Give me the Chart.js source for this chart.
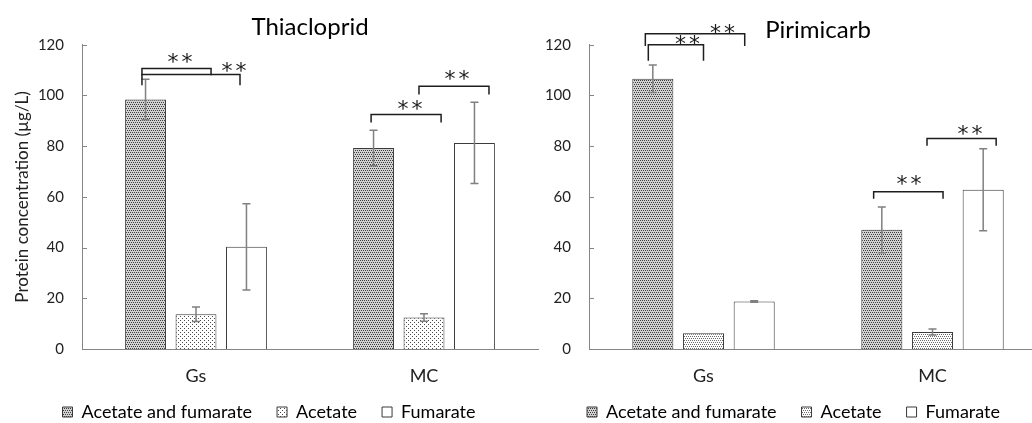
<!DOCTYPE html>
<html>
<head>
<meta charset="utf-8">
<script src="https://cdn.jsdelivr.net/npm/chart.js@4"></script>
<style>
  html, body { margin: 0; padding: 0; background: #fff; overflow: hidden; width: 1032px; height: 423px; }
  canvas { position: absolute; top: 0; }
  #thiacloprid { left: 0; }
  #pirimicarb { left: 540px; }
</style>
</head>
<body>
<canvas id="thiacloprid" width="540" height="423"></canvas>
<canvas id="pirimicarb" width="524" height="423"></canvas>
<script>
// ---- data (µg/L), order of each array: [Gs, MC] ----
const categories = ['Gs', 'MC'];
const seriesNames = ['Acetate and fumarate', 'Acetate', 'Fumarate'];
const yTicks = [0, 20, 40, 60, 80, 100, 120];

const thiaMixed = [98.4, 79.3];
const thiaAcetate = [13.7, 12.4];
const thiaFumarate = [40.3, 81.3];
const thiaMixedErr = [8, 7];
const thiaAcetateErr = [2.9, 1.5];
const thiaFumarateErr = [17, 16];

const piriMixed = [106.6, 47];
const piriAcetate = [6.2, 6.7];
const piriFumarate = [18.7, 62.8];
const piriMixedErr = [5.4, 9];
const piriAcetateErr = [0, 1.2];
const piriFumarateErr = [0.3, 16.2];

// significance brackets: [category, from, to, top, legEnd, starX, starY]
// from/to/starX are offsets from the category centre (in category units), top/legEnd/starY in µg/L
const thiaBrackets = [
  ['Gs', -0.237, 0.066, 110.7, 108, -0.07, 114.6],
  ['Gs', -0.237, 0.193, 108.3, 104, 0.167, 111.1],
  ['MC', -0.232, 0.075, 92.5, 89.3, -0.061, 96.4],
  ['MC', -0.022, 0.285, 103.6, 100.4, 0.145, 107.9]
];
const piriBrackets = [
  ['Gs', -0.254, 0.18, 124.4, 119.5, 0.083, 126.1],
  ['Gs', -0.241, 0, 120, 113.7, -0.07, 121.7],
  ['MC', -0.257, 0.046, 62, 59.3, -0.103, 66.8],
  ['MC', -0.024, 0.278, 83, 80.2, 0.164, 86.2]
];

Chart.defaults.font.family = 'Lato, "Open Sans", sans-serif';
Chart.defaults.color = '#222';

const axisColor = '#858585';

function makePattern(bg, dots, dotColor) {
  const c = document.createElement('canvas');
  c.width = 4;
  c.height = 4;
  const g = c.getContext('2d');
  g.fillStyle = bg;
  g.fillRect(0, 0, 4, 4);
  g.fillStyle = dotColor;
  dots.forEach(([x, y]) => g.fillRect(x, y, 1, 1));
  return g.createPattern(c, 'repeat');
}

const mixedFill = makePattern('#d2d2d2', [[0, 0], [2, 0], [1, 2], [3, 2]], '#3c3c3c');
const acetateFillSparse = makePattern('#ffffff', [[0, 0], [2, 2]], '#4a4a4a');
const acetateFillDense = makePattern('#ffffff', [[0, 0], [2, 0], [1, 2], [3, 2]], '#6a6a6a');

// error bars, inward tick marks and significance brackets
const annotationsPlugin = {
  id: 'annotations',
  afterDatasetsDraw(chart, args, opts) {
    const ctx = chart.ctx;
    const xs = chart.scales.x;
    const ys = chart.scales.y;
    const area = chart.chartArea;

    ctx.save();
    // error bars
    ctx.strokeStyle = '#808080';
    ctx.lineWidth = 1.5;
    chart.data.datasets.forEach((ds, i) => {
      chart.getDatasetMeta(i).data.forEach((bar, j) => {
        const err = ds.errors[j];
        if (!err) return;
        const top = ys.getPixelForValue(ds.data[j] + err);
        const bot = ys.getPixelForValue(ds.data[j] - err);
        ctx.beginPath();
        ctx.moveTo(bar.x, top);
        ctx.lineTo(bar.x, bot);
        ctx.moveTo(bar.x - 4, top);
        ctx.lineTo(bar.x + 4, top);
        ctx.moveTo(bar.x - 4, bot);
        ctx.lineTo(bar.x + 4, bot);
        ctx.stroke();
      });
    });

    // tick marks pointing into the plot
    ctx.strokeStyle = axisColor;
    ctx.lineWidth = 1;
    yTicks.forEach(v => {
      const py = Math.round(ys.getPixelForValue(v)) + 0.5;
      ctx.beginPath();
      ctx.moveTo(area.left, py);
      ctx.lineTo(area.left + 5, py);
      ctx.stroke();
    });

    // brackets with stars
    ctx.strokeStyle = '#1e1e1e';
    ctx.lineWidth = 1.5;
    ctx.fillStyle = '#1e1e1e';
    ctx.font = '22px "DejaVu Sans"';
    ctx.textAlign = 'center';
    ctx.textBaseline = 'alphabetic';
    const m = ctx.measureText('*');
    const shift = (m.actualBoundingBoxAscent - m.actualBoundingBoxDescent) / 2;
    (opts.brackets || []).forEach(([cat, from, to, top, leg, starX, starY]) => {
      const c = categories.indexOf(cat);
      const x1 = xs.getPixelForValue(c + from);
      const x2 = xs.getPixelForValue(c + to);
      const yt = ys.getPixelForValue(top);
      const yl = ys.getPixelForValue(leg);
      ctx.beginPath();
      ctx.moveTo(x1, yl);
      ctx.lineTo(x1, yt);
      ctx.lineTo(x2, yt);
      ctx.lineTo(x2, yl);
      ctx.stroke();
      const sx = xs.getPixelForValue(c + starX);
      const sy = ys.getPixelForValue(starY) + shift;
      ctx.fillText('*', sx - 7, sy);
      ctx.fillText('*', sx + 7, sy);
    });
    ctx.restore();
  }
};

// legend row: keep the wide item spacing but pull the row up under the axis labels
const legendPlacePlugin = {
  id: 'legendPlace',
  beforeInit(chart) {
    const originalFit = chart.legend && chart.legend.fit ? chart.legend.fit : null;
    if (!originalFit) return;
    chart.legend.fit = function fit() {
      originalFit.call(this);
      this.height = 34;
    };
  },
  afterLayout(chart) {
    if (!chart.legend) return;
    chart.legend.top -= 11;
  }
};

function buildChart(canvasId, title, values, errors, acetateFill, brackets, opts) {
  const fills = [mixedFill, acetateFill, '#ffffff'];
  const datasets = seriesNames.map((name, i) => ({
    label: name,
    data: values[i],
    errors: errors[i],
    backgroundColor: fills[i],
    borderColor: '#3a3a3a',
    borderWidth: 1,
    categoryPercentage: 0.664,
    barPercentage: 0.81
  }));

  return new Chart(document.getElementById(canvasId), {
    type: 'bar',
    data: { labels: categories, datasets: datasets },
    plugins: [annotationsPlugin, legendPlacePlugin],
    options: {
      responsive: false,
      animation: false,
      layout: { padding: { left: 0, right: opts.padRight, top: 0, bottom: 0 } },
      plugins: {
        tooltip: { enabled: false },
        annotations: { brackets: brackets },
        title: {
          display: true,
          text: title,
          fullSize: false,
          color: '#000',
          font: { size: 24, weight: 'normal' },
          padding: { top: opts.titleTop, bottom: 44.8 - 28.8 - opts.titleTop }
        },
        legend: {
          position: 'bottom',
          labels: {
            color: '#000',
            font: { size: 18 },
            boxWidth: 10,
            boxHeight: 10,
            padding: 25
          }
        }
      },
      scales: {
        x: {
          grid: { display: false, drawTicks: false },
          border: { color: axisColor, width: 1 },
          ticks: { font: { size: 18 }, color: '#222', padding: 16 },
          afterFit: s => { s.height = 40; }
        },
        y: {
          min: 0,
          max: 120,
          grid: { display: false, drawTicks: false },
          border: { color: axisColor, width: 1 },
          ticks: { stepSize: 20, font: { size: 15 }, color: '#222', padding: 18 },
          title: {
            display: opts.yTitle,
            text: 'Protein concentration (µg/L)',
            color: '#222',
            font: { size: 17 },
            padding: { top: 12 }
          },
          afterFit: s => { s.width = opts.axisWidth; }
        }
      }
    }
  });
}

buildChart('thiacloprid', 'Thiacloprid',
  [thiaMixed, thiaAcetate, thiaFumarate],
  [thiaMixedErr, thiaAcetateErr, thiaFumarateErr],
  acetateFillSparse, thiaBrackets,
  { padRight: 2, titleTop: 13, yTitle: true, axisWidth: 82 });

buildChart('pirimicarb', 'Pirimicarb',
  [piriMixed, piriAcetate, piriFumarate],
  [piriMixedErr, piriAcetateErr, piriFumarateErr],
  acetateFillDense, piriBrackets,
  { padRight: 17, titleTop: 16, yTitle: false, axisWidth: 49 });
</script>
</body>
</html>
